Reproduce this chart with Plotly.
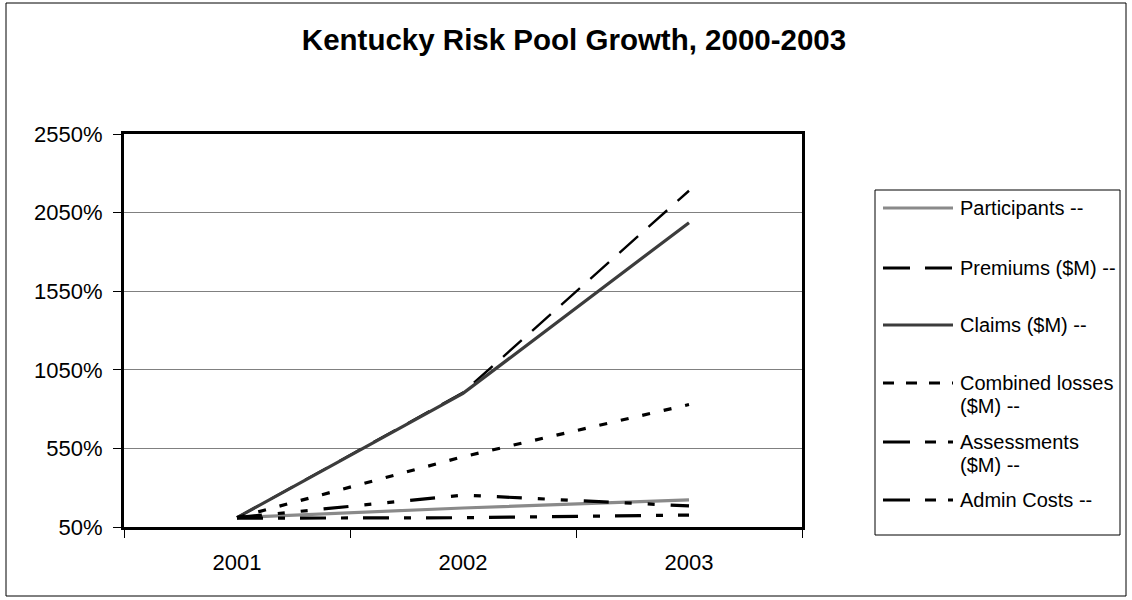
import plotly.graph_objects as go

# Growth index (% of 2000 level) for each Kentucky risk pool measure
years = ["2001", "2002", "2003"]
participants = [110, 171, 222]
premiums = [110, 905, 2189]
claims = [110, 900, 1986]
combined_losses = [110, 497, 829]
assessments = [110, 253, 184]
admin_costs = [106, 109, 126]

y_ticks = [50, 550, 1050, 1550, 2050, 2550]

W, H = 1132, 600
# plot area in pixels
PL, PR, PT, PB = 124, 802, 134, 527
FONT = "Liberation Sans, Arial, sans-serif"


def px(x):
    return (x - PL) / (PR - PL)


def py(y):
    return (PB - y) / (PB - PT)


series = [
    dict(name="Participants --", y=participants,
         line=dict(color="#8a8a8a", width=3.2, dash="solid"),
         key=dict(color="#8a8a8a", width=3.2, dash="solid"),
         label=["Participants --"]),
    dict(name="Premiums ($M) --", y=premiums,
         line=dict(color="black", width=2.4, dash="25px,14px"),
         key=dict(color="black", width=3, dash="27px,15px"),
         label=["Premiums ($M) --"]),
    dict(name="Claims ($M) --", y=claims,
         line=dict(color="#3c3c3c", width=3.2, dash="solid"),
         key=dict(color="#3c3c3c", width=3.2, dash="solid"),
         label=["Claims ($M) --"]),
    dict(name="Combined losses ($M) --", y=combined_losses,
         line=dict(color="black", width=3.2, dash="8px,14px"),
         key=dict(color="black", width=3.2, dash="11px,12px"),
         label=["Combined losses", "($M) --"]),
    dict(name="Assessments ($M) --", y=assessments,
         line=dict(color="black", width=3.2, dash="25px,16px,7px,16px,7px,16px"),
         key=dict(color="black", width=3.2, dash="27px,15px,11px,12px"),
         label=["Assessments", "($M) --"]),
    dict(name="Admin Costs --", y=admin_costs,
         line=dict(color="black", width=3.2, dash="26px,15px,7px,15px"),
         key=dict(color="black", width=3.2, dash="27px,15px,11px,12px"),
         label=["Admin Costs --"]),
]

fig = go.Figure()
for s in series:
    fig.add_trace(go.Scatter(x=years, y=s["y"], mode="lines", name=s["name"],
                             line=s["line"], showlegend=False))

shapes = []
annotations = []

# outer chart frame
shapes.append(dict(type="rect", xref="paper", yref="paper",
                   x0=px(6), x1=px(1126), y0=py(596), y1=py(3),
                   line=dict(color="black", width=1), fillcolor="rgba(0,0,0,0)",
                   layer="below"))

# legend box
LX0, LX1, LY0, LY1 = 875, 1120, 190, 535
shapes.append(dict(type="rect", xref="paper", yref="paper",
                   x0=px(LX0), x1=px(LX1), y0=py(LY1), y1=py(LY0),
                   line=dict(color="black", width=1), fillcolor="white"))

item_y = [208, 268, 325, 383, 442, 500]
line_gap = 23
for s, yy in zip(series, item_y):
    shapes.append(dict(type="line", xref="paper", yref="paper",
                       x0=px(883), x1=px(953), y0=py(yy), y1=py(yy),
                       line=s["key"]))
    for i, txt in enumerate(s["label"]):
        annotations.append(dict(xref="paper", yref="paper", x=px(958),
                                y=py(yy + i * line_gap), text=txt,
                                showarrow=False, xanchor="left", yanchor="middle",
                                font=dict(family=FONT, size=20, color="black")))

fig.update_layout(
    width=W, height=H,
    margin=dict(l=PL, r=W - PR, t=PT, b=H - PB, autoexpand=False),
    paper_bgcolor="white", plot_bgcolor="white",
    title=dict(text="<b>Kentucky Risk Pool Growth, 2000-2003</b>",
               x=574 / W, xanchor="center", y=1 - 40 / H, yanchor="middle",
               font=dict(family=FONT, size=29.5, color="black")),
    xaxis=dict(type="category", categoryorder="array", categoryarray=years,
               range=[-0.5, 2.5], tickson="boundaries", ticks="outside",
               ticklen=8, tickwidth=1, tickcolor="black", ticklabelstandoff=14,
               showline=True, linewidth=3, linecolor="black", mirror=True,
               showgrid=False, zeroline=False,
               tickfont=dict(family=FONT, size=22, color="black")),
    yaxis=dict(range=[50, 2550], tickmode="array", tickvals=y_ticks,
               ticktext=[f"{v}%" for v in y_ticks], ticks="outside",
               ticklen=8, tickwidth=1, tickcolor="black", ticklabelstandoff=6,
               showline=True, linewidth=3, linecolor="black", mirror=True,
               showgrid=True, gridcolor="#808080", gridwidth=1, zeroline=False,
               tickfont=dict(family=FONT, size=22, color="black")),
    shapes=shapes,
    annotations=annotations,
    showlegend=False,
)

fig.write_html("out.html")
